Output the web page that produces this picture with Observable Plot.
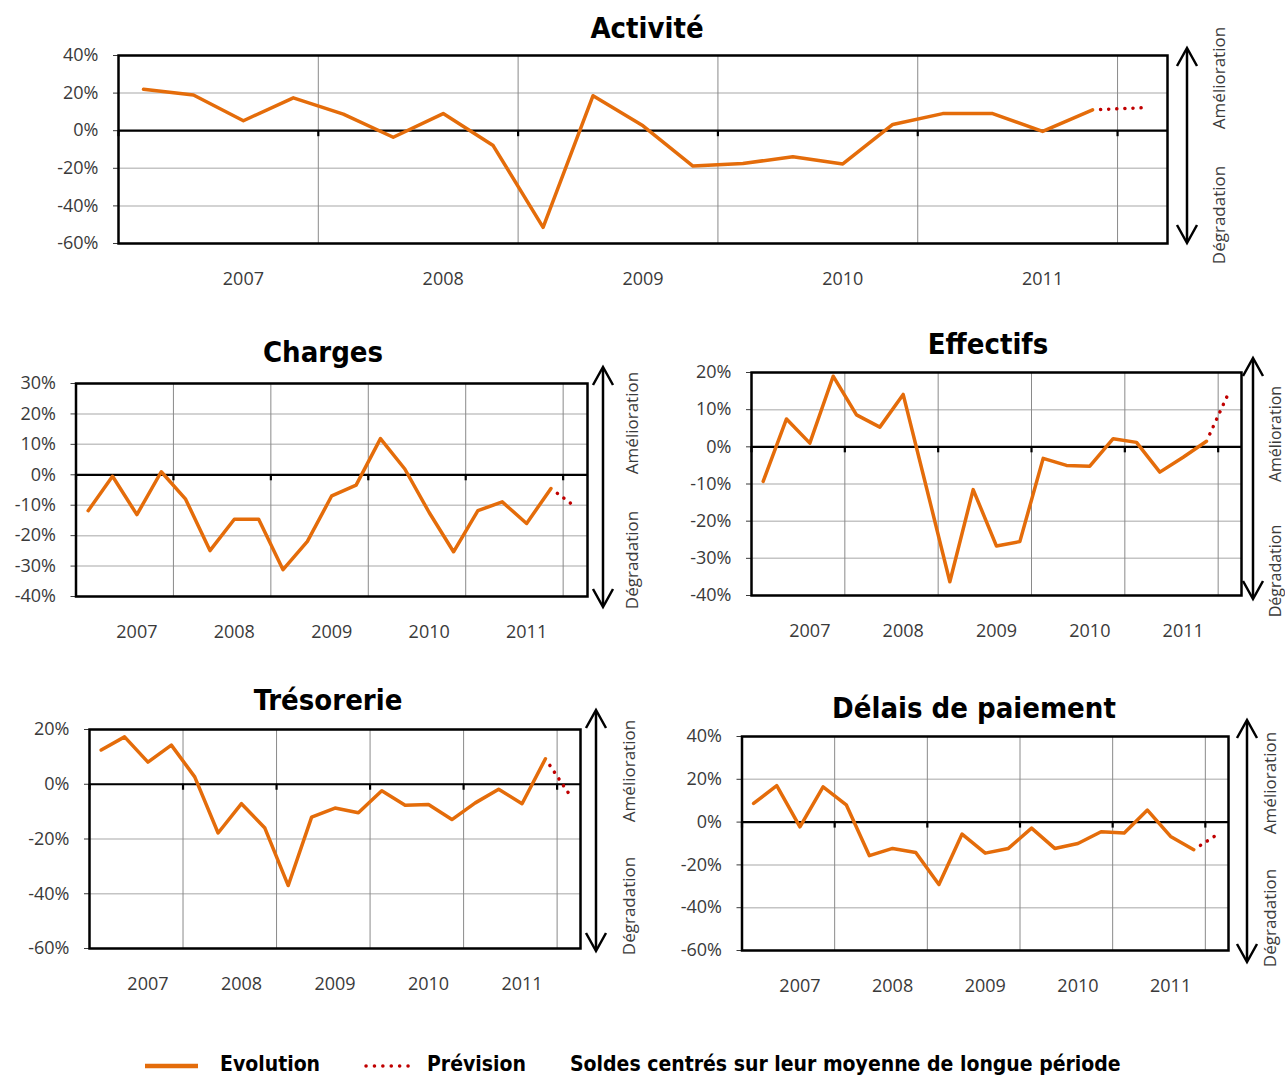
<!DOCTYPE html>
<html><head><meta charset="utf-8">
<script src="https://cdn.jsdelivr.net/npm/d3@7"></script>
<script src="https://cdn.jsdelivr.net/npm/@observablehq/plot@0.6"></script>
<style>
body{margin:0;background:#fff;}
#root{position:relative;width:1285px;height:1075px;overflow:hidden;background:#fff;}
#root > svg{position:absolute;}
</style></head><body><div id="root"></div>
<script>
// ---- data (quarterly balances, 2007 Q1 .. 2011 Q4, then forecast) ----
const years = ["2007", "2008", "2009", "2010", "2011"];
const activite   = [22, 19, 5.3, 17.5, 8.8, -3.5, 9.1, -7.9, -51.4, 18.6, 2.6, -18.8, -17.4, -13.9, -17.7, 3.3, 9.1, 9.1, -0.4, 11.1];
const activitePrev = 12.2;
const charges    = [-11.8, -0.5, -13.1, 1.0, -8.0, -24.9, -14.6, -14.6, -31.2, -21.9, -6.9, -3.4, 11.9, 1.9, -12.4, -25.3, -11.8, -8.9, -16.0, -4.5];
const chargesPrev = -10.5;
const effectifs  = [-9.3, 7.5, 1.0, 19.0, 8.6, 5.3, 14.1, -11.0, -36.3, -11.5, -26.7, -25.5, -3.1, -5.0, -5.2, 2.2, 1.2, -6.8, -2.8, 1.5];
const effectifsPrev = 15.2;
const tresorerie = [12.5, 17.3, 8.1, 14.3, 2.7, -17.8, -7.1, -16.0, -37.0, -12.0, -8.7, -10.4, -2.4, -7.7, -7.4, -12.9, -6.8, -1.8, -7.1, 9.3];
const tresoreriePrev = -3.4;
const delais     = [8.7, 17.0, -2.2, 16.5, 8.1, -15.7, -12.3, -14.2, -29.2, -5.6, -14.5, -12.3, -2.8, -12.3, -10.0, -4.5, -5.1, 5.6, -6.7, -12.9];
const delaisPrev = -5.9;
const ticksAct = [-60, -40, -20, 0, 20, 40];
const ticksCha = [-40, -30, -20, -10, 0, 10, 20, 30];
const ticksEff = [-40, -30, -20, -10, 0, 10, 20];
const ticksTre = [-60, -40, -20, 0, 20];
const ticksDel = [-60, -40, -20, 0, 20, 40];
const legendLabels = ["Evolution", "Prévision", "Soldes centrés sur leur moyenne de longue période"];
const upLabel = "Amélioration", downLabel = "Dégradation";

// ---- layout ----
const panels = [
  {title: "Activité", values: activite, prev: activitePrev, ticks: ticksAct,
   box: [0, 0, 1285, 300], frame: [118, 1167, 55, 243], titleXY: [647, 38],
   arrowX: 1187, arrowY: [48, 243], textX: 1218, textY: [78, 215], textSize: 17},
  {title: "Charges", values: charges, prev: chargesPrev, ticks: ticksCha,
   box: [0, 320, 650, 650], frame: [75.5, 587, 383, 596], titleXY: [323, 362],
   arrowX: 603, arrowY: [367, 607], textX: 631, textY: [423, 560], textSize: 17},
  {title: "Effectifs", values: effectifs, prev: effectifsPrev, ticks: ticksEff,
   box: [650, 320, 1285, 650], frame: [751, 1241, 372, 595], titleXY: [988, 354],
   arrowX: 1253, arrowY: [358, 599], textX: 1275, textY: [434, 571], textSize: 16},
  {title: "Trésorerie", values: tresorerie, prev: tresoreriePrev, ticks: ticksTre,
   box: [0, 670, 650, 1010], frame: [89, 580, 729, 948], titleXY: [328, 710],
   arrowX: 596, arrowY: [710, 951], textX: 628, textY: [771, 906], textSize: 17},
  {title: "Délais de paiement", values: delais, prev: delaisPrev, ticks: ticksDel,
   box: [650, 670, 1285, 1010], frame: [741.5, 1228, 736, 950], titleXY: [974, 718],
   arrowX: 1247, arrowY: [720, 962], textX: 1269, textY: [783, 918], textSize: 17}
];

const ORANGE = "#e46c0a", RED = "#c00000";
const TITLE_FONT = "'DejaVu Sans Condensed', 'DejaVu Sans', sans-serif";
const TICK_FONT = "'Open Sans', 'Noto Sans', sans-serif";
const yearPos = years.map((y, k) => 2 + 4 * k);          // label position (quarter index)
const bounds = years.map((y, k) => 3.5 + 4 * k);          // year boundaries
const root = document.getElementById("root");

for (const p of panels) {
  const [bx0, by0, bx1, by1] = p.box;
  const [L, R, T, B] = p.frame;
  const width = bx1 - bx0, height = by1 - by0;
  const yMin = d3.min(p.ticks), yMax = d3.max(p.ticks);
  const tickDown = -6 / (B - T) * (yMax - yMin);
  const series = p.values.map((v, i) => ({i, v}));
  const prevSeries = [{i: p.values.length - 1, v: p.values[p.values.length - 1]}, {i: p.values.length, v: p.prev}];

  const chart = Plot.plot({
    width, height,
    marginLeft: L - bx0, marginRight: bx1 - R, marginTop: T - by0, marginBottom: by1 - B,
    style: {fontFamily: TICK_FONT, fontSize: "18px", color: "#3a3a3a", overflow: "visible", background: "transparent"},
    x: {domain: [-0.5, p.values.length + 0.5], axis: "bottom", ticks: yearPos,
        tickFormat: i => years[(i - 2) / 4], tickSize: 0, tickPadding: 29, label: null},
    y: {domain: [yMin, yMax], ticks: p.ticks, tickFormat: d => d + "%", tickSize: 5, tickPadding: 15, label: null},
    marks: [
      Plot.ruleY(p.ticks, {stroke: "#c4c4c4", strokeWidth: 1.5}),
      Plot.ruleX(bounds, {stroke: "#8a8a8a", strokeWidth: 1}),
      Plot.ruleY([0], {stroke: "#000", strokeWidth: 2.2}),
      Plot.ruleX([-0.5, ...bounds], {y1: 0, y2: tickDown, stroke: "#000", strokeWidth: 2.2}),
      Plot.frame({stroke: "#000", strokeWidth: 2.5}),
      Plot.line(prevSeries, {x: "i", y: "v", stroke: RED, strokeWidth: 3.5, strokeLinecap: "round",
                             strokeDasharray: "0.1,8", strokeDashoffset: -8}),
      Plot.line(series, {x: "i", y: "v", stroke: ORANGE, strokeWidth: 3.5, strokeLinejoin: "round"})
    ]
  });
  chart.style.left = bx0 + "px";
  chart.style.top = by0 + "px";
  root.appendChild(chart);

  const svg = d3.select(chart);
  const g = svg.append("g").attr("transform", `translate(${-bx0},${-by0})`);
  g.append("text").attr("x", p.titleXY[0]).attr("y", p.titleXY[1])
    .attr("text-anchor", "middle").attr("font-family", TITLE_FONT).attr("font-weight", "bold")
    .attr("font-size", 29).attr("fill", "#000").text(p.title);
  // double-headed arrow
  const ax = p.arrowX, [ay0, ay1] = p.arrowY, hl = 18, hw = 10;
  const ag = g.append("g").attr("stroke", "#000").attr("stroke-width", 2.5).attr("fill", "none");
  ag.append("line").attr("x1", ax).attr("x2", ax).attr("y1", ay0 + 1).attr("y2", ay1 - 1);
  ag.append("path").attr("d", `M${ax - hw},${ay0 + hl}L${ax},${ay0}L${ax + hw},${ay0 + hl}`);
  ag.append("path").attr("d", `M${ax - hw},${ay1 - hl}L${ax},${ay1}L${ax + hw},${ay1 - hl}`);
  [[upLabel, p.textY[0]], [downLabel, p.textY[1]]].forEach(([t, ty]) => {
    g.append("text").attr("transform", `translate(${p.textX},${ty}) rotate(-90)`)
      .attr("text-anchor", "middle").attr("dominant-baseline", "central")
      .attr("font-family", TICK_FONT).attr("font-size", p.textSize).attr("fill", "#3a3a3a").text(t);
  });
}

// ---- legend ----
const leg = d3.select(root).append("svg").attr("width", 1285).attr("height", 45)
  .style("left", "0px").style("top", "1040px");
leg.append("line").attr("x1", 145).attr("x2", 198).attr("y1", 26).attr("y2", 26)
  .attr("stroke", ORANGE).attr("stroke-width", 4.5);
leg.append("line").attr("x1", 366).attr("x2", 416).attr("y1", 26).attr("y2", 26)
  .attr("stroke", RED).attr("stroke-width", 3.5).attr("stroke-linecap", "round").attr("stroke-dasharray", "0.1,8.3");
[[220, legendLabels[0]], [427, legendLabels[1]], [570, legendLabels[2]]].forEach(([x, t]) => {
  leg.append("text").attr("x", x).attr("y", 31).attr("font-family", TITLE_FONT).attr("font-weight", "bold")
    .attr("font-size", 21).attr("fill", "#000").text(t);
});
</script></body></html>
